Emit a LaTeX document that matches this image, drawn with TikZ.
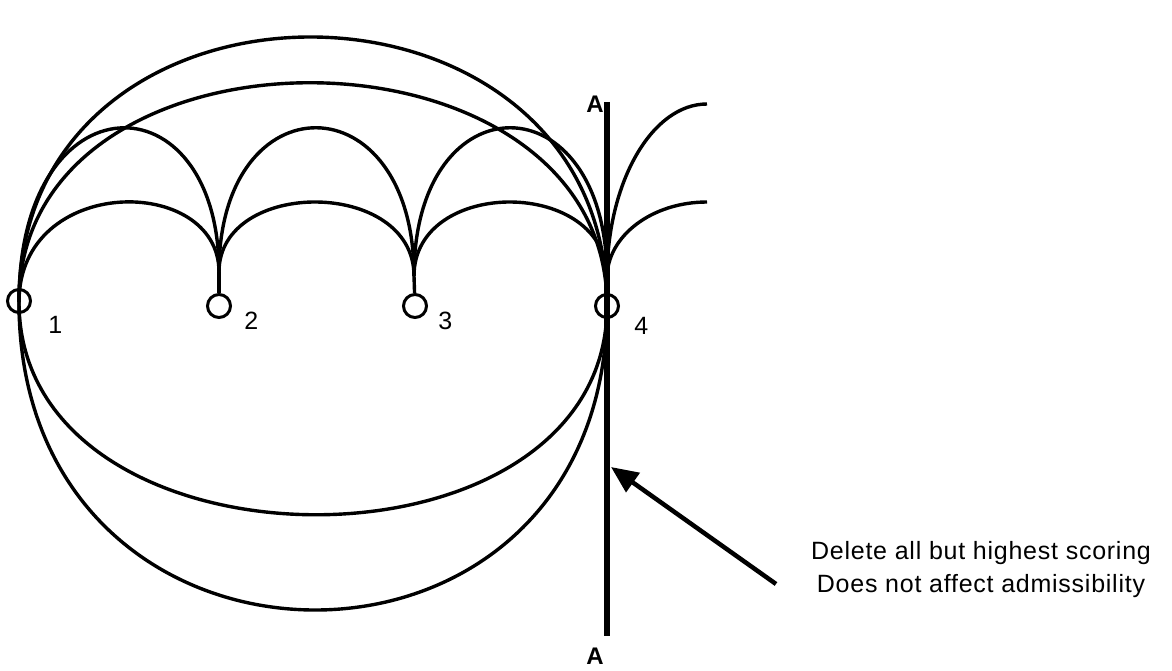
\documentclass[tikz,border=0pt]{standalone}
\usepackage{fontspec}
\setmainfont{Liberation Sans}
\newfontfamily\notefont[LetterSpace=3]{Liberation Sans}
\usetikzlibrary{arrows.meta, positioning}

\begin{document}
\begin{tikzpicture}[
    x=1pt, y=-1pt,
    curve/.style={line width=3.4pt},
    stop/.style={circle, draw, line width=3pt, minimum size=23pt, inner sep=0pt},
    num/.style={font=\fontsize{25}{25}\selectfont, inner sep=2pt},
    cut/.style={line width=6pt},
    cutlabel/.style={font=\bfseries\fontsize{24}{24}\selectfont, inner sep=2pt},
    pointer/.style={-{Triangle[length=27pt,width=23pt]}, line width=4.5pt},
    note/.style={font=\notefont\fontsize{25}{33}\selectfont, align=center}
]
\useasboundingbox (0,0) rectangle (1172,671);

% junction points of the arcs
\coordinate (j1) at (19,302);
\coordinate (j2) at (219,272);
\coordinate (j3) at (414,276);
\coordinate (j4) at (607,278);
\coordinate (p4) at (607,306);

% outer circle
\draw[curve] (j1) .. controls +(0,-356) and +(0,-356) .. (p4);
\draw[curve] (j1) .. controls +(0,408) and +(0,408) .. (p4);

% wide arcs from 1 to 4
\draw[curve] (j1) .. controls +(0,-295) and +(0,-295) .. (p4);
\draw[curve] (j1) .. controls +(0,281) and +(0,281) .. (p4);

% high humps
\draw[curve] (j1) .. controls +(0,-227) and +(0,-197) .. (j2);
\draw[curve] (j2) .. controls +(0,-193) and +(0,-197) .. (j3);
\draw[curve] (j3) .. controls +(0,-198) and +(0,-200) .. (j4);

% low humps
\draw[curve] (j1) .. controls +(0,-128) and +(0,-98) .. (j2);
\draw[curve] (j2) .. controls +(0,-94) and +(0,-98) .. (j3);
\draw[curve] (j3) .. controls +(0,-99) and +(0,-101) .. (j4);

% arcs leaving 4
\coordinate (e1) at (707,104);
\coordinate (e2) at (707,202);
\draw[curve] (j4) .. controls +(0,-96) and +(-55,0) .. (e1);
\draw[curve] (j4) .. controls +(0,-42) and +(-55,0) .. (e2);

% stops
\node[stop] (s1) at (19,301) {};
\node[stop] (s2) at (219,306) {};
\node[stop] (s3) at (415,306) {};
\node[stop] (s4) at (607,306) {};
\draw[curve] (j2) -- (s2);
\draw[curve] (j3) -- (s3);

\node[num, below right=4pt and 18pt of s1] (l1) {1};
\node[num, below right=-5pt and 14pt of s2] (l2) {2};
\node[num, below right=-5pt and 12pt of s3] (l3) {3};
\node[num, below right=0pt and 16pt of s4] (l4) {4};

% cut line A-A
\coordinate (a1) at (607,102);
\coordinate (a2) at (607,636);
\draw[cut] (a1) -- (a2);
\node[cutlabel, left=1pt of a1, yshift=-2pt] (top) {A};
\node[cutlabel, below=10pt of a2, xshift=-12pt] (bot) {A};

% note with arrow
\node[note] (note) at (981,570) {Delete all but highest scoring\\Does not affect admissibility};
\coordinate (tail) at (776,584);
\coordinate (hit) at (611,467);
\draw[pointer] (tail) -- (hit);

\end{tikzpicture}
\end{document}
